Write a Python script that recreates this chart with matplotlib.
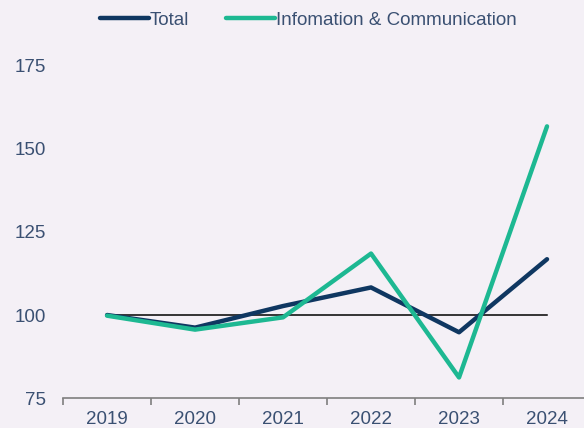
import numpy as np
import matplotlib.pyplot as plt

years = ["2019", "2020", "2021", "2022", "2023", "2024"]
total = [100, 96.2, 102.7, 108.3, 94.8, 116.8]
info = [99.8, 95.6, 99.3, 118.5, 81.2, 156.8]
yticks = [75, 100, 125, 150, 175]

bg = "#F4F0F6"
txt = "#3A5072"
navy = "#0F3761"
teal = "#1DB892"

plt.rcParams["font.family"] = ["Liberation Sans", "DejaVu Sans"]

fig = plt.figure(figsize=(5.84, 4.28), dpi=100, facecolor=bg)
ax = fig.add_axes([0.108, 0.07, 0.904, 0.776], facecolor=bg)

x = np.arange(len(years))
ax.plot(x, [100] * len(x), color="black", lw=1.1, zorder=1)
ax.plot(x, total, color=navy, lw=3.2, label="Total", solid_capstyle="round", zorder=2)
ax.plot(x, info, color=teal, lw=3.2, label="Infomation & Communication", solid_capstyle="round", zorder=3)

ax.set_xlim(-0.5, 5.5)
ax.set_ylim(75, 175)
ax.set_yticks(yticks)
ax.set_xticks(x)
ax.set_xticklabels(years)
ax.set_xticks(np.arange(-0.5, 6, 1), minor=True)

for s in ["top", "right", "left"]:
    ax.spines[s].set_visible(False)
ax.spines["bottom"].set_color("#7F7F7F")
ax.spines["bottom"].set_linewidth(1.2)

ax.tick_params(axis="y", length=0, pad=12, labelsize=13.5, labelcolor=txt)
ax.tick_params(axis="x", which="major", length=0, pad=9, labelsize=13.5, labelcolor=txt)
ax.tick_params(axis="x", which="minor", length=5, width=1.2, color="#7F7F7F", direction="out")

leg = fig.legend(loc="center", bbox_to_anchor=(0.528, 0.953), ncol=2, frameon=False,
                 fontsize=13.5, handlelength=2.6, handletextpad=0.05, columnspacing=2.0)
for t in leg.get_texts():
    t.set_color(txt)

fig.savefig("out.png", dpi=100, facecolor=bg)
